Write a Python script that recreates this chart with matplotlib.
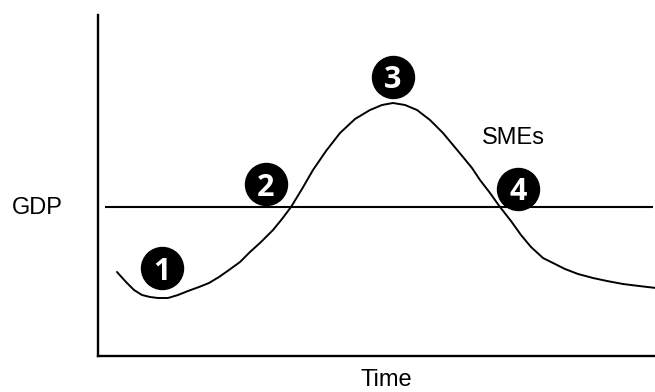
import matplotlib
matplotlib.use("Agg")
import matplotlib.pyplot as plt

# 曲線データ (横: 時間, 縦: 水準) 画像から読み取り
time = [19, 28, 36, 44, 52, 60, 70, 80, 90, 101, 111, 121, 131, 142, 152,
        163, 175, 184, 193, 204, 215, 228, 242, 257, 272, 284, 295, 307,
        319, 332, 345, 355, 365, 374, 382, 392, 402, 413, 423, 433, 445,
        457, 467, 480, 495, 509, 525, 541, 558]
level = [84, 74, 66, 61, 59, 58, 58, 61, 65, 69, 73, 79, 86, 94, 104,
         114, 126, 137, 149, 167, 186, 205, 223, 237, 246, 251, 253, 251,
         246, 236, 223, 211, 199, 188, 176, 163, 149, 135, 121, 109, 98,
         92, 87, 82, 78, 75, 72, 70, 68]

gdp_level = 149
gdp_start, gdp_end = 7, 555

# 番号付きマーカー
marker_labels = ["1", "2", "3", "4"]
marker_x = [64, 168, 295, 420]
marker_y = [88, 172, 279, 167]

fig = plt.figure(figsize=(6.55, 3.92), dpi=100)
ax = fig.add_axes([98 / 655, 36 / 392, 557 / 655, 341 / 392])
ax.set_xlim(0, 557)
ax.set_ylim(0, 341)

for side in ["top", "right"]:
    ax.spines[side].set_visible(False)
for side in ["left", "bottom"]:
    ax.spines[side].set_linewidth(1.7)
ax.set_xticks([])
ax.set_yticks([])

ax.plot(time, level, color="black", linewidth=1.4, solid_capstyle="round")
ax.hlines(gdp_level, gdp_start, gdp_end, color="black", linewidth=1.5)

ax.scatter(marker_x, marker_y, s=(42 * 0.72) ** 2, color="black", zorder=3,
           clip_on=False)
for lab, mx, my in zip(marker_labels, marker_x, marker_y):
    ax.text(mx, my, lab, color="white", fontsize=22, fontweight="bold",
            family="Open Sans", ha="center", va="center_baseline", zorder=4)

font = dict(family="Liberation Sans", fontsize=17, color="black")
ax.text(415, 218, "SMEs", ha="center", va="center", **font)
fig.text(37 / 655, 1 - 208 / 392, "GDP", ha="center", va="center", **font)
fig.text(386 / 655, 1 - 391 / 392, "Time", ha="center", va="bottom", **font)

plt.savefig("out.png", dpi=100)
plt.close()
